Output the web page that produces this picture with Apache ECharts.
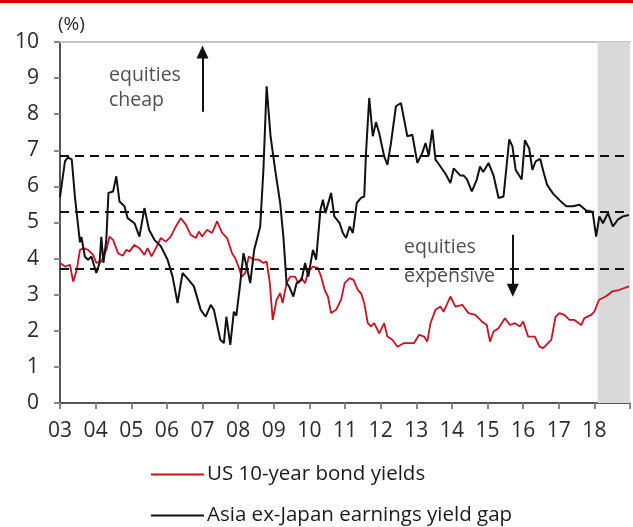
<!DOCTYPE html>
<html>
<head>
<meta charset="utf-8">
<script src="https://cdn.jsdelivr.net/npm/echarts@6/dist/echarts.min.js"></script>
<style>
html,body{margin:0;padding:0;background:#fff;}
#chart{width:633px;height:527px;}
</style>
</head>
<body>
<div id="chart"></div>
<script>
// ---- data ----
const yearTicks = [2003,2004,2005,2006,2007,2008,2009,2010,2011,2012,2013,2014,2015,2016,2017,2018];
const bandLevels = [6.86, 5.29, 3.72];
const forecastSpan = [2018.09, 2019];
const seriesNames = ['US 10-year bond yields', 'Asia ex-Japan earnings yield gap'];

const gapYears = [2003.00,2003.14,2003.22,2003.33,2003.42,2003.56,2003.60,2003.70,2003.79,2003.88,2004.02,2004.11,2004.16,2004.22,2004.30,2004.36,2004.49,2004.58,2004.67,2004.81,2004.90,2005.09,2005.23,2005.37,2005.50,2005.65,2005.83,2006.02,2006.16,2006.30,2006.44,2006.57,2006.76,2006.95,2007.09,2007.23,2007.32,2007.50,2007.60,2007.67,2007.78,2007.88,2007.95,2008.06,2008.15,2008.24,2008.34,2008.45,2008.62,2008.71,2008.80,2008.91,2009.04,2009.18,2009.27,2009.36,2009.43,2009.55,2009.64,2009.78,2009.88,2009.97,2010.10,2010.19,2010.31,2010.38,2010.45,2010.61,2010.70,2010.85,2010.94,2011.03,2011.13,2011.22,2011.33,2011.45,2011.54,2011.59,2011.68,2011.78,2011.87,2011.96,2012.10,2012.19,2012.29,2012.43,2012.57,2012.66,2012.75,2012.89,2013.03,2013.17,2013.26,2013.35,2013.45,2013.54,2013.63,2013.82,2013.96,2014.05,2014.24,2014.33,2014.42,2014.56,2014.70,2014.79,2014.88,2015.03,2015.17,2015.31,2015.45,2015.61,2015.70,2015.79,2015.96,2016.05,2016.17,2016.26,2016.35,2016.48,2016.58,2016.67,2016.84,2017.02,2017.21,2017.40,2017.58,2017.77,2017.95,2018.05,2018.14,2018.24,2018.38,2018.52,2018.66,2018.80,2018.97];
const gapValues = [5.7,6.7,6.8,6.75,5.7,4.45,4.6,4.05,3.97,4.06,3.6,3.88,4.6,3.88,4.52,5.82,5.86,6.28,5.58,5.45,5.12,4.98,4.61,5.4,4.8,4.52,4.34,3.97,3.5,2.77,3.6,3.46,3.23,2.58,2.39,2.72,2.58,1.75,1.66,2.39,1.61,2.53,2.42,3.32,4.15,3.78,3.32,4.24,4.89,6.46,8.77,7.39,6.46,5.54,4.61,3.32,3.23,2.95,3.32,3.41,3.88,3.5,4.24,3.97,5.35,5.63,5.26,5.82,5.17,4.98,4.71,4.57,4.89,4.71,5.54,5.68,5.72,6.93,8.45,7.39,7.78,7.48,6.83,6.6,7.2,8.22,8.31,7.85,7.39,7.43,6.65,6.93,7.2,6.85,7.57,6.74,6.62,6.35,6.09,6.5,6.3,6.3,6.2,5.86,6.19,6.55,6.4,6.65,6.3,5.68,5.72,7.3,7.11,6.46,6.19,7.28,7.05,6.46,6.69,6.76,6.37,6.05,5.8,5.62,5.45,5.45,5.49,5.33,5.3,4.61,5.17,4.98,5.26,4.89,5.08,5.17,5.21];

const yieldYears = [2003.00,2003.14,2003.28,2003.37,2003.47,2003.56,2003.65,2003.79,2003.93,2004.02,2004.16,2004.30,2004.39,2004.49,2004.63,2004.76,2004.86,2004.95,2005.09,2005.23,2005.37,2005.46,2005.57,2005.69,2005.83,2005.97,2006.11,2006.25,2006.39,2006.53,2006.67,2006.81,2006.90,2006.99,2007.13,2007.27,2007.41,2007.55,2007.69,2007.83,2007.92,2008.01,2008.10,2008.20,2008.30,2008.44,2008.58,2008.71,2008.80,2008.89,2008.97,2009.08,2009.18,2009.25,2009.36,2009.46,2009.60,2009.69,2009.78,2009.88,2009.97,2010.10,2010.24,2010.33,2010.43,2010.52,2010.61,2010.75,2010.89,2010.99,2011.13,2011.24,2011.36,2011.45,2011.54,2011.64,2011.73,2011.82,2011.96,2012.10,2012.19,2012.33,2012.47,2012.66,2012.80,2012.94,2013.08,2013.22,2013.31,2013.40,2013.54,2013.68,2013.77,2013.96,2014.10,2014.29,2014.47,2014.66,2014.84,2014.98,2015.07,2015.17,2015.31,2015.49,2015.63,2015.77,2015.91,2016.00,2016.14,2016.33,2016.46,2016.56,2016.70,2016.79,2016.91,2017.02,2017.16,2017.30,2017.44,2017.63,2017.72,2017.91,2018.00,2018.13,2018.32,2018.50,2018.69,2018.97];
const yieldValues = [3.88,3.78,3.83,3.36,3.69,4.24,4.29,4.24,4.1,3.88,3.92,4.24,4.61,4.52,4.15,4.08,4.24,4.2,4.38,4.29,4.1,4.29,4.06,4.29,4.57,4.47,4.61,4.89,5.12,4.94,4.66,4.57,4.75,4.61,4.8,4.71,5.03,4.71,4.57,4.15,4.01,3.78,3.5,3.6,4.06,3.97,3.97,3.88,3.92,3.32,2.3,2.86,3.04,2.77,3.32,3.5,3.5,3.32,3.46,3.32,3.64,3.78,3.74,3.5,3.13,2.95,2.49,2.58,2.86,3.32,3.46,3.41,3.13,3.04,2.77,2.21,2.12,2.21,1.93,2.21,1.84,1.75,1.56,1.66,1.66,1.66,1.89,1.84,1.7,2.21,2.58,2.67,2.53,2.95,2.67,2.72,2.49,2.44,2.26,2.16,1.7,1.98,2.07,2.35,2.16,2.21,2.12,2.26,1.84,1.84,1.56,1.52,1.66,1.75,2.39,2.49,2.44,2.3,2.3,2.16,2.35,2.44,2.53,2.86,2.95,3.09,3.13,3.23];

// annotation arrows (data coordinates)
const cheapArrow = [[2007.0, 8.07], [2007.0, 9.72]];
const expensiveArrow = [[2015.71, 4.66], [2015.71, 3.12]];

const zip = (xs, ys) => xs.map((x, i) => [x, ys[i]]);

const FONT = 'Open Sans';
const chart = echarts.init(document.getElementById('chart'), null, {renderer: 'canvas'});

const legendBase = {
  orient: 'horizontal',
  left: 151,
  padding: 0,
  itemWidth: 53,
  itemHeight: 2,
  icon: 'rect',
  selectedMode: false,
  textStyle: {fontFamily: FONT, fontSize: 20.5, color: '#1a1a1a', padding: [0,0,0,-2]}
};

const option = {
  animation: false,
  backgroundColor: '#ffffff',
  textStyle: {fontFamily: FONT},
  grid: {left: 60, right: 0, top: 42, bottom: 124},
  legend: [
    Object.assign({}, legendBase, {top: 464, data: [seriesNames[0]]}),
    Object.assign({}, legendBase, {top: 505, data: [seriesNames[1]]})
  ],
  xAxis: [{
    type: 'value',
    min: yearTicks[0],
    max: 2019,
    interval: 1,
    axisLine: {lineStyle: {color: '#555', width: 2}},
    axisTick: {show: true, length: 6, lineStyle: {color: '#888', width: 2}},
    axisLabel: {
      fontFamily: FONT, fontSize: 21, color: '#2a2a2a', margin: 18,
      formatter: v => yearTicks.indexOf(v) >= 0 ? String(v).slice(2) : ''
    },
    splitLine: {show: false}
  }, {
    type: 'value',
    position: 'top',
    min: yearTicks[0],
    max: 2019,
    axisLine: {show: true, lineStyle: {color: '#c4c4c4', width: 2}},
    axisTick: {show: false},
    axisLabel: {show: false},
    splitLine: {show: false}
  }],
  yAxis: {
    type: 'value',
    min: 0, max: 10, interval: 1,
    axisLine: {show: true, lineStyle: {color: '#555', width: 2}},
    axisTick: {show: true, length: 6, lineStyle: {color: '#888', width: 2}},
    axisLabel: {fontFamily: FONT, fontSize: 21, color: '#2a2a2a', margin: 21},
    splitLine: {show: false}
  },
  series: [{
    name: seriesNames[0],
    type: 'line',
    data: zip(yieldYears, yieldValues),
    symbol: 'none',
    lineStyle: {color: '#cc1020', width: 1.8},
    itemStyle: {color: '#cc1020'},
    z: 3,
    markArea: {
      silent: true,
      itemStyle: {color: '#d9d9d9'},
      data: [[{xAxis: forecastSpan[0]}, {xAxis: forecastSpan[1]}]]
    }
  }, {
    name: seriesNames[1],
    type: 'line',
    data: zip(gapYears, gapValues),
    symbol: 'none',
    lineStyle: {color: '#111', width: 2},
    itemStyle: {color: '#111'},
    z: 4,
    markLine: {
      silent: true,
      symbol: ['none', 'none'],
      label: {show: false},
      lineStyle: {color: '#111', type: [9, 6], width: 2},
      data: bandLevels.map(v => ({yAxis: v}))
    }
  }, {
    name: 'arrows',
    type: 'line',
    data: [],
    markLine: {
      silent: true,
      symbol: ['none', 'triangle'],
      symbolSize: [12, 13],
      label: {show: false},
      lineStyle: {color: '#111', type: 'solid', width: 2},
      data: [
        [{coord: cheapArrow[0]}, {coord: cheapArrow[1]}],
        [{coord: expensiveArrow[0]}, {coord: expensiveArrow[1]}]
      ]
    }
  }],
  graphic: [
    {type: 'rect', left: 0, top: 0, shape: {width: 633, height: 3}, style: {fill: '#d80000'}},
    {type: 'text', left: 58, top: 15, style: {text: '(%)', font: '19px "Open Sans"', fill: '#2a2a2a'}},
    {type: 'text', left: 109, top: 63, style: {text: 'equities\ncheap', font: '19.5px "Open Sans"', fill: '#505050', lineHeight: 25}},
    {type: 'text', left: 404, top: 233, style: {text: 'equities\nexpensive', font: '19.5px "Open Sans"', fill: '#505050', lineHeight: 29}}
  ]
};
chart.setOption(option);
</script>
</body>
</html>
